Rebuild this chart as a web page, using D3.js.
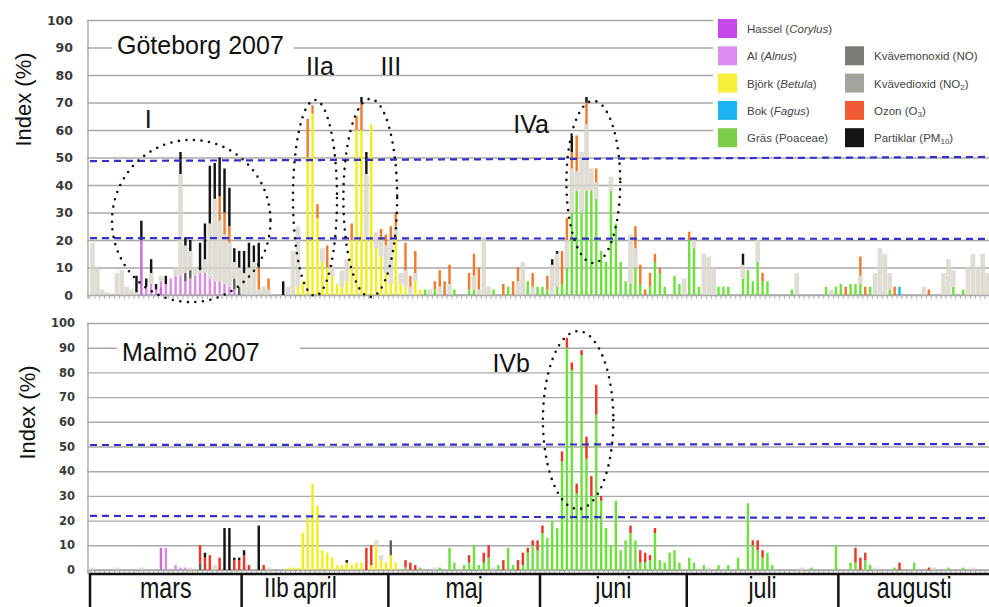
<!DOCTYPE html>
<html>
<head>
<meta charset="utf-8">
<script src="https://cdn.jsdelivr.net/npm/d3@7"></script>
<style>
  body { margin: 0; background: #fff; }
  svg { display: block; font-family: "Liberation Sans", Arial, sans-serif; }
</style>
</head>
<body>
<svg id="chart" width="989" height="607"></svg>
<script>
// months on the x axis (1 mars .. 31 augusti 2007)
const months = ["mars", "april", "maj", "juni", "juli", "augusti"];
const monthDays = [31, 30, 31, 30, 31, 31];
const yTicks = [0, 10, 20, 30, 40, 50, 60, 70, 80, 90, 100];

// series, bottom to top of each daily stack
const keys = ["hassel", "al", "bjork", "bok", "gras", "no", "no2", "ozon", "pm10"];
const legendText = [
  [["Hassel (", ""], ["Corylus", "i"], [")", ""]],
  [["Al (", ""], ["Alnus", "i"], [")", ""]],
  [["Björk (", ""], ["Betula", "i"], [")", ""]],
  [["Bok (", ""], ["Fagus", "i"], [")", ""]],
  [["Gräs (Poaceae)", ""]],
  [["Kvävemonoxid (NO)", ""]],
  [["Kvävedioxid (NO", ""], ["2", "s"], [")", ""]],
  [["Ozon (O", ""], ["3", "s"], [")", ""]],
  [["Partiklar (PM", ""], ["10", "s"], [")", ""]]
];

// Göteborg 2007, [day index from 1 mars, index %]
const gbgHassel = [[10, 20], [14, 3]];
const gbgAl = [[11, 3], [12, 4], [13, 2], [14, 2], [15, 4], [16, 6], [17, 7], [18, 7], [19, 5], [20, 6], [21, 7], [22, 8], [23, 8], [24, 6], [25, 5], [26, 5], [27, 4], [28, 3], [29, 2]];
const gbgBjork = [[42, 3], [43, 5], [44, 50], [45, 66], [46, 28], [47, 12], [48, 10], [49, 7], [50, 4], [51, 3], [52, 5], [53, 20], [54, 60], [55, 60], [56, 20], [57, 62], [58, 17], [59, 14], [60, 8], [61, 4], [62, 22], [63, 4], [64, 3], [66, 5], [67, 2]];
const gbgBok = [[165, 3]];
const gbgGras = [[68, 2], [70, 2], [74, 2], [77, 2], [78, 2], [82, 2], [85, 3], [89, 5], [91, 3], [92, 3], [93, 2], [95, 3], [96, 4], [97, 10], [98, 30], [99, 38], [100, 30], [101, 38], [102, 38], [103, 35], [104, 16], [105, 12], [106, 38], [107, 26], [108, 12], [109, 5], [110, 4], [111, 10], [112, 4], [114, 3], [115, 12], [116, 8], [117, 3], [119, 7], [120, 4], [122, 20], [123, 17], [124, 3], [128, 3], [129, 3], [130, 3], [133, 6], [134, 9], [135, 5], [136, 12], [137, 5], [138, 5], [143, 2], [150, 3], [152, 3], [153, 4], [155, 4], [156, 4], [157, 4], [159, 3], [163, 2], [176, 3], [178, 2]];
const gbgNO = [[19, 3], [20, 3], [29, 4], [30, 3]];
const gbgNO2 = [[0, 19], [1, 10], [2, 2], [3, 1], [5, 8], [6, 9], [7, 3], [8, 2], [9, 1], [12, 4], [14, 2], [17, 3], [18, 37], [19, 10], [20, 7], [21, 3], [22, 1], [23, 5], [24, 20], [25, 30], [26, 22], [27, 18], [28, 16], [29, 6], [30, 7], [31, 8], [32, 10], [33, 12], [34, 2], [35, 3], [36, 2], [40, 3], [41, 16], [42, 22], [47, 5], [49, 4], [51, 6], [52, 8], [56, 24], [58, 6], [59, 6], [60, 10], [61, 16], [62, 3], [63, 4], [64, 6], [65, 3], [66, 3], [69, 2], [71, 3], [73, 4], [78, 5], [79, 2], [80, 21], [81, 3], [87, 5], [88, 12], [90, 3], [94, 11], [95, 12], [97, 10], [98, 16], [99, 7], [100, 22], [101, 24], [102, 8], [103, 6], [106, 5], [110, 18], [111, 7], [121, 6], [123, 4], [125, 15], [126, 14], [127, 10], [133, 5], [136, 8], [144, 8], [151, 2], [157, 3], [160, 8], [161, 17], [162, 15], [163, 6], [170, 3], [174, 8], [175, 13], [176, 6], [179, 10], [180, 15], [181, 10], [182, 15], [183, 8]];
const gbgOzon = [[26, 9], [27, 8], [28, 6], [34, 8], [36, 4], [44, 14], [45, 3], [46, 5], [48, 8], [53, 6], [54, 5], [55, 10], [59, 4], [60, 4], [61, 5], [62, 5], [64, 10], [65, 4], [66, 8], [70, 3], [71, 6], [72, 5], [73, 7], [77, 6], [78, 8], [79, 8], [84, 4], [86, 5], [87, 5], [90, 5], [93, 5], [96, 12], [97, 8], [98, 6], [99, 13], [101, 8], [103, 5], [111, 8], [112, 7], [113, 2], [114, 5], [115, 3], [116, 2], [122, 3], [137, 3], [154, 3], [157, 7], [158, 3], [164, 3], [171, 2]];
const gbgPM10 = [[9, 6], [10, 7], [11, 3], [12, 5], [13, 2], [15, 3], [18, 8], [19, 3], [20, 4], [22, 10], [23, 13], [24, 21], [25, 13], [26, 14], [27, 16], [28, 14], [29, 5], [30, 6], [31, 8], [32, 9], [33, 6], [34, 9], [39, 5], [55, 2], [56, 8], [94, 2], [95, 1], [98, 6], [101, 2], [133, 4]];

// Malmö 2007
const mmoHassel = [[14, 9]];
const mmoAl = [[15, 9], [17, 2], [18, 1], [19, 1]];
const mmoBjork = [[40, 1], [41, 1], [42, 1], [43, 15], [44, 21], [45, 35], [46, 26], [47, 8], [48, 7], [49, 5], [50, 2], [51, 2], [52, 3], [53, 2], [54, 3], [55, 3], [57, 2], [58, 10], [59, 4], [60, 3], [61, 6], [62, 3]];
const mmoBok = [];
const mmoGras = [[64, 1], [67, 1], [71, 1], [73, 9], [74, 3], [76, 2], [77, 3], [78, 10], [79, 2], [80, 3], [81, 5], [83, 2], [85, 9], [86, 2], [88, 2], [89, 7], [90, 10], [91, 8], [92, 15], [93, 13], [94, 20], [95, 17], [96, 44], [97, 90], [98, 81], [99, 31], [100, 87], [101, 45], [102, 30], [103, 63], [104, 28], [105, 17], [106, 10], [107, 28], [108, 8], [109, 12], [110, 15], [111, 12], [112, 3], [113, 3], [114, 4], [115, 15], [116, 4], [117, 3], [118, 7], [119, 8], [120, 3], [122, 5], [123, 3], [125, 2], [128, 2], [130, 2], [132, 5], [134, 27], [135, 10], [136, 8], [137, 5], [138, 7], [139, 2], [147, 1], [152, 10], [155, 3], [156, 3], [158, 4], [159, 2], [164, 1], [168, 3], [175, 1], [178, 1]];
const mmoNO = [[22, 3], [61, 6]];
const mmoNO2 = [[0, 1], [5, 1], [10, 1], [20, 1], [25, 2], [36, 1], [58, 2], [59, 2], [70, 1], [82, 1], [126, 1], [145, 1], [160, 1], [172, 1], [180, 1]];
const mmoOzon = [[22, 7], [23, 5], [24, 6], [26, 5], [29, 4], [30, 4], [31, 6], [32, 2], [35, 2], [56, 9], [57, 8], [64, 3], [65, 3], [66, 2], [77, 3], [80, 4], [81, 5], [84, 4], [87, 4], [88, 5], [89, 2], [90, 2], [91, 4], [92, 3], [96, 4], [97, 4], [98, 3], [99, 4], [100, 2], [101, 9], [102, 8], [103, 12], [104, 2], [110, 3], [112, 5], [113, 4], [114, 2], [115, 2], [135, 2], [136, 4], [137, 3], [156, 6], [157, 5], [158, 3], [165, 3], [171, 1]];
const mmoPM10 = [[23, 2], [27, 17], [28, 17], [29, 1], [30, 1], [31, 2], [34, 18], [52, 1]];

// guide levels [value at start, value at end], rings [day, value, rDays, rValue], marks [text, day, value]
const gbgLevels = [[48.7, 50.2], [20.7, 20.4]];
const mmoLevels = [[50.6, 51], [21.9, 21]];
const gbgRings = [[20.2, 26.9, 16.2, 29.5], [45.5, 35.3, 4.5, 35.6], [56.8, 35.3, 5.5, 36], [102.4, 41.1, 5.5, 29.5]];
const mmoRings = [[99.3, 60.7, 7.2, 36]];
const gbgMarks = [["I", 11.4, 60.7], ["IIa", 46.5, 80], ["III", 61, 80], ["IVa", 89.7, 58.9]];
const mmoMarks = [["IVb", 85.6, 80.2]];
const stripMarks = [["IIb", 37.6]];

const legendColor = ["#c548ea", "#dc8ef0", "#f5ef3a", "#1cb4f2", "#7ccd4a", "#7c7c74", "#a4a49c", "#f25a36", "#151515"];
const barColor = ["#cf6ad8", "#d98ee2", "#f2ee1c", "#1cb4f2", "#6ee23c", "#5e5e5a", "#d9d5cb", "#f27a2c", "#151515"];

const nDays = d3.sum(monthDays);
const X0 = 90, X1 = 990;
const svg = d3.select("#chart");

const x = d3.scaleBand().domain(d3.range(nDays)).range([X0, X1]);
const xl = d3.scaleLinear().domain([0, nDays]).range([X0, X1]);

function dense(pairs) {
  const a = new Array(nDays).fill(0);
  pairs.forEach(([d, v]) => { a[d] += v; });
  return a;
}

function drawPanel(p) {
  const y = d3.scaleLinear().domain([0, 100]).range([p.yBottom, p.yTop]);
  const g = svg.append("g");

  // grid + tick labels
  const axis = d3.axisLeft(y).tickValues(yTicks).tickSize(-(989 - X0 + 3)).tickPadding(p.pad);
  const ga = g.append("g").attr("transform", `translate(${X0 - 3},0)`).call(axis);
  ga.select(".domain").remove();
  ga.selectAll(".tick line").attr("stroke", "#a9a9a9").attr("stroke-width", 1.4);
  ga.selectAll(".tick text")
    .attr("font-family", "DejaVu Sans, Verdana, sans-serif")
    .attr("font-weight", "bold")
    .attr("font-size", p.tickSize)
    .attr("fill", "#3a3a3a");

  g.append("line").attr("x1", X0 - 2).attr("x2", X0 - 2)
    .attr("y1", y(100)).attr("y2", y(0) + 4)
    .attr("stroke", "#a9a9a9").attr("stroke-width", 1.4);

  // day ticks along the baseline
  g.append("g").selectAll("line").data(d3.range(nDays + 1)).join("line")
    .attr("x1", d => xl(d)).attr("x2", d => xl(d))
    .attr("y1", y(0)).attr("y2", y(0) + 4)
    .attr("stroke", "#b0b0b0").attr("stroke-width", 1);
  g.append("line").attr("x1", X0).attr("x2", 989).attr("y1", y(0)).attr("y2", y(0))
    .attr("stroke", "#a9a9a9").attr("stroke-width", 1.4);

  // stacked daily columns
  const cols = keys.map(k => dense(p.series[k]));
  const rows = d3.range(nDays).map(i => {
    const r = { day: i };
    keys.forEach((k, j) => { r[k] = cols[j][i]; });
    return r;
  });
  const stacked = d3.stack().keys(keys)(rows);
  const step = x.step();

  g.append("g").selectAll("g").data(stacked).join("g")
    .attr("fill", (s, j) => (keys[j] === "ozon" ? p.ozon : barColor[j]))
    .attr("opacity", (s, j) => (keys[j] === "no2" ? 0.8 : 1))
    .each(function(s, j) {
      const wide = keys[j] === "no2";
      const w = wide ? step * 0.95 : step * 0.5;
      d3.select(this).selectAll("rect")
        .data(s.filter(d => d[1] - d[0] > 0))
        .join("rect")
        .attr("x", d => x(d.data.day) + (step - w) / 2)
        .attr("width", w)
        .attr("y", d => y(d[1]))
        .attr("height", d => y(d[0]) - y(d[1]));
    });

  // guide levels
  g.append("g").selectAll("line").data(p.levels).join("line")
    .attr("x1", X0).attr("x2", 989)
    .attr("y1", d => y(d[0])).attr("y2", d => y(d[1]))
    .attr("stroke", "#3530cc").attr("stroke-width", 2.2)
    .attr("stroke-dasharray", "7 5");

  // title with white backing
  const tg = g.append("g");
  const tt = tg.append("text").attr("x", p.titleX).attr("y", p.titleY)
    .attr("font-size", 25).attr("fill", "#111").text(p.title);
  const bb = tt.node().getBBox();
  tg.insert("rect", "text").attr("x", bb.x - 5).attr("y", bb.y)
    .attr("width", bb.width + 5 + p.backPad).attr("height", bb.height).attr("fill", "#fff");

  // dotted rings
  g.append("g").selectAll("ellipse").data(p.rings).join("ellipse")
    .attr("cx", d => xl(d[0] + 0.5)).attr("cy", d => y(d[1]))
    .attr("rx", d => xl(d[2]) - xl(0)).attr("ry", d => y(0) - y(d[3]))
    .attr("fill", "none").attr("stroke", "#111").attr("stroke-width", 2.6)
    .attr("stroke-linecap", "round").attr("stroke-dasharray", "0 7.6");

  // axis title
  g.append("text")
    .attr("transform", `translate(${p.labelX},${(y(0) + y(100)) / 2 + p.labelDy}) rotate(-90)`)
    .attr("text-anchor", "middle").attr("font-size", 22).attr("fill", "#111")
    .text("Index (%)");

  // roman markers
  g.append("g").selectAll("text").data(p.marks).join("text")
    .attr("x", d => xl(d[1] + 0.5)).attr("y", d => y(d[2]))
    .attr("text-anchor", "middle").attr("font-size", 25).attr("fill", "#111").text(d => d[0]);

  return { g, y };
}

drawPanel({
  title: "Göteborg 2007", titleX: 117, titleY: 54, backPad: 10,
  yTop: 20, yBottom: 295, pad: 14, tickSize: 12.5, labelX: 31, labelDy: -58,
  ozon: "#f27a2c", levels: gbgLevels, rings: gbgRings, marks: gbgMarks,
  series: { hassel: gbgHassel, al: gbgAl, bjork: gbgBjork, bok: gbgBok, gras: gbgGras, no: gbgNO, no2: gbgNO2, ozon: gbgOzon, pm10: gbgPM10 }
});
drawPanel({
  title: "Malmö 2007", titleX: 122, titleY: 361, backPad: 40,
  yTop: 323, yBottom: 570, pad: 12, tickSize: 11.5, labelX: 35, labelDy: -34,
  ozon: "#ee3526", levels: mmoLevels, rings: mmoRings, marks: mmoMarks,
  series: { hassel: mmoHassel, al: mmoAl, bjork: mmoBjork, bok: mmoBok, gras: mmoGras, no: mmoNO, no2: mmoNO2, ozon: mmoOzon, pm10: mmoPM10 }
});

// legend
const lg = svg.append("g");
lg.append("rect").attr("x", 713).attr("y", 12).attr("width", 280).attr("height", 137).attr("fill", "#fff");
const legPos = keys.map((k, i) => (i < 5 ? [718, 19 + i * 27.3] : [845, 19 + (i - 4) * 27.3]));
const li = lg.selectAll("g").data(keys).join("g")
  .attr("transform", (k, i) => `translate(${legPos[i][0]},${legPos[i][1]})`);
li.append("rect").attr("width", 19).attr("height", 19).attr("fill", (k, i) => legendColor[i]);
li.append("text").attr("x", 29).attr("y", 14).attr("font-size", 11.5).attr("fill", "#444")
  .each(function(k, i) {
    const t = d3.select(this);
    let prev = "";
    legendText[i].forEach(([s, st]) => {
      const ts = t.append("tspan").text(s);
      if (st === "i") ts.attr("font-style", "italic");
      if (st === "s") ts.attr("font-size", 8).attr("dy", 2);
      else if (prev === "s") ts.attr("dy", -2);
      prev = st;
    });
  });

// month strip (labels drawn narrow, as in the pasted strip)
const starts = d3.cumsum([0, ...monthDays]);
const mg = svg.append("g");
mg.append("rect").attr("x", X0).attr("y", 574).attr("width", 1000).attr("height", 50)
  .attr("fill", "none").attr("stroke", "#111").attr("stroke-width", 2.5);
mg.selectAll("line").data(Array.from(starts).slice(1, -1)).join("line")
  .attr("x1", d => xl(d)).attr("x2", d => xl(d)).attr("y1", 574).attr("y2", 607)
  .attr("stroke", "#111").attr("stroke-width", 2.5);
mg.selectAll("text.month").data(months).join("text").attr("class", "month")
  .attr("transform", (m, i) => `translate(${xl(starts[i] + monthDays[i] / 2)},598) scale(0.8,1)`)
  .attr("text-anchor", "middle")
  .attr("font-size", 29).attr("fill", "#111").text(m => m);
mg.selectAll("text.mark").data(stripMarks).join("text").attr("class", "mark")
  .attr("transform", d => `translate(${xl(d[1] + 0.5)},597) scale(0.8,1)`)
  .attr("text-anchor", "middle")
  .attr("font-size", 28).attr("fill", "#111").text(d => d[0]);
</script>
</body>
</html>
